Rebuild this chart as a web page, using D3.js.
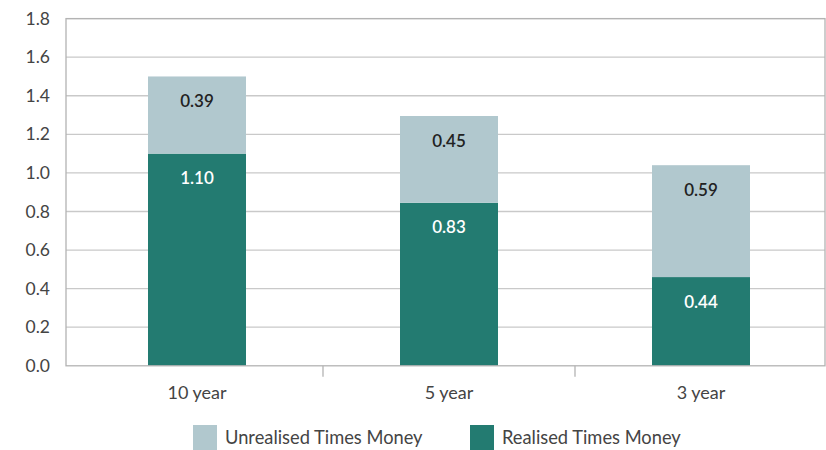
<!DOCTYPE html>
<html>
<head>
<meta charset="utf-8">
<script src="https://cdn.jsdelivr.net/npm/d3@7"></script>
<style>
	body { margin: 0; background: #fff; }
	text { font-family: Lato, "Open Sans", sans-serif; }
</style>
</head>
<body>
<script>
var categories = ['10 year', '5 year', '3 year'];
var realised = [1.10, 0.845, 0.46];
var unrealised = [0.40, 0.45, 0.58];
var realisedLabels = ['1.10', '0.83', '0.44'];
var unrealisedLabels = ['0.39', '0.45', '0.59'];
var yTicks = [0, 0.2, 0.4, 0.6, 0.8, 1.0, 1.2, 1.4, 1.6, 1.8];
var seriesNames = ['Unrealised Times Money', 'Realised Times Money'];

var COLORS = {
	unrealised: '#b1c8ce',
	realised: '#237b71'
};

var svg = d3.select('body')
	.append('svg')
	.attr('width', 826)
	.attr('height', 450);

var y = d3.scaleLinear()
	.domain([0, 1.8])
	.range([365.8, 18.6]);

var x = d3.scaleBand()
	.domain(categories)
	.range([71, 827]);

var frameLeft = 66, frameRight = 825;

// gridlines
svg.append('g')
	.selectAll('line')
	.data(yTicks.slice(1))
	.enter()
	.append('line')
	.attr('x1', frameLeft)
	.attr('x2', frameRight)
	.attr('y1', function (d) { return y(d); })
	.attr('y2', function (d) { return y(d); })
	.attr('stroke', '#c9c9c9')
	.attr('stroke-width', 1.3);

// y axis labels
var yAxis = d3.axisLeft(y)
	.tickValues(yTicks)
	.tickFormat(d3.format('.1f'))
	.tickSize(0)
	.tickPadding(16);

var yG = svg.append('g')
	.attr('transform', 'translate(' + frameLeft + ',0)')
	.call(yAxis);
yG.select('.domain').remove();
yG.selectAll('text')
	.attr('font-size', 17.5)
	.attr('fill', '#444')
	.style('font-family', 'Lato, sans-serif');

var barWidth = 98;

// bars
var groups = svg.append('g')
	.selectAll('g')
	.data(categories)
	.enter()
	.append('g')
	.attr('transform', function (d) { return 'translate(' + (x(d) + x.bandwidth() / 2 - barWidth / 2) + ',0)'; });

groups.append('rect')
	.attr('width', barWidth)
	.attr('y', function (d, i) { return y(realised[i]); })
	.attr('height', function (d, i) { return y(0) - y(realised[i]); })
	.attr('fill', COLORS.realised);

groups.append('rect')
	.attr('width', barWidth)
	.attr('y', function (d, i) { return y(realised[i] + unrealised[i]); })
	.attr('height', function (d, i) { return y(realised[i]) - y(realised[i] + unrealised[i]); })
	.attr('fill', COLORS.unrealised);

groups.append('text')
	.attr('x', barWidth / 2)
	.attr('y', function (d, i) { return y(realised[i]) + 30.5; })
	.attr('text-anchor', 'middle')
	.attr('font-size', 17)
	.attr('font-weight', 600)
	.attr('fill', '#fff')
	.text(function (d, i) { return realisedLabels[i]; });

groups.append('text')
	.attr('x', barWidth / 2)
	.attr('y', function (d, i) { return y(realised[i] + unrealised[i]) + 30.5; })
	.attr('text-anchor', 'middle')
	.attr('font-size', 17)
	.attr('font-weight', 600)
	.attr('fill', '#222')
	.text(function (d, i) { return unrealisedLabels[i]; });

// frame
svg.append('rect')
	.attr('x', frameLeft)
	.attr('y', y(1.8))
	.attr('width', frameRight - frameLeft)
	.attr('height', y(0) - y(1.8))
	.attr('fill', 'none')
	.attr('stroke', '#b3b3b3')
	.attr('stroke-width', 1.3);

// x axis
var xAxis = d3.axisBottom(x)
	.tickSize(0)
	.tickPadding(20);

var xG = svg.append('g')
	.attr('transform', 'translate(0,' + y(0) + ')')
	.call(xAxis);
xG.select('.domain').remove();
xG.selectAll('text')
	.attr('font-size', 18)
	.attr('fill', '#444')
	.style('font-family', 'Lato, sans-serif');

// category separators
svg.append('g')
	.selectAll('line')
	.data(categories.slice(1))
	.enter()
	.append('line')
	.attr('x1', function (d) { return x(d); })
	.attr('x2', function (d) { return x(d); })
	.attr('y1', y(0))
	.attr('y2', y(0) + 11)
	.attr('stroke', '#b3b3b3')
	.attr('stroke-width', 1.3);

// legend
var legendX = [193, 470];
var legendColors = [COLORS.unrealised, COLORS.realised];
var legend = svg.append('g')
	.selectAll('g')
	.data(seriesNames)
	.enter()
	.append('g')
	.attr('transform', function (d, i) { return 'translate(' + legendX[i] + ',425)'; });

legend.append('rect')
	.attr('width', 24)
	.attr('height', 25)
	.attr('fill', function (d, i) { return legendColors[i]; });

legend.append('text')
	.attr('x', 32)
	.attr('y', 19)
	.attr('font-size', 18.3)
	.attr('fill', '#444')
	.text(function (d) { return d; });
</script>
</body>
</html>
